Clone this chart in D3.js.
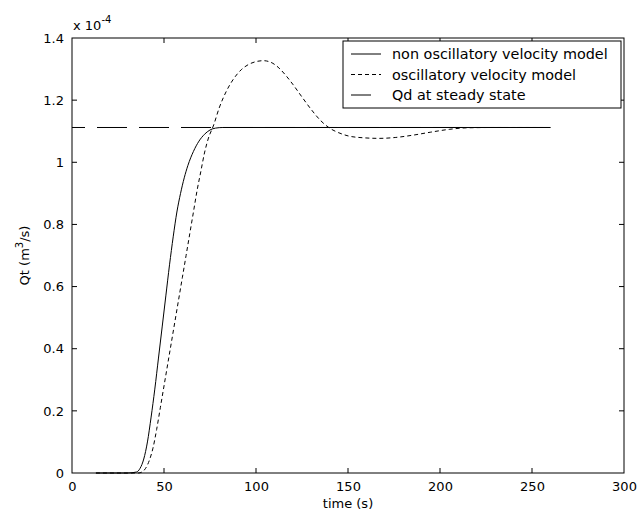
<!DOCTYPE html>
<html>
<head>
<meta charset="utf-8">
<script src="https://cdn.jsdelivr.net/npm/d3@7"></script>
<style>
  body { margin: 0; background: #fff; }
  svg text { font-family: "DejaVu Sans", sans-serif; fill: #000; }
</style>
</head>
<body>
<svg id="chart"></svg>
<script>
// values in units of 1e-4 m^3/s
const QD = 1.112;

const nonOscTime = [13, 30, 35, 37, 39, 41, 43, 45, 47, 49, 51, 53, 55, 57, 59, 61, 63, 66, 69, 72, 75, 78, 82, 100, 150, 200, 260];
const nonOscValue = [0, 0, 0.003, 0.015, 0.045, 0.1, 0.18, 0.27, 0.37, 0.47, 0.57, 0.67, 0.76, 0.84, 0.9, 0.95, 0.99, 1.035, 1.068, 1.09, 1.104, 1.11, 1.112, 1.112, 1.112, 1.112, 1.112];

const oscTime = [13, 36, 38, 40, 42, 44, 46, 48, 50, 52, 54, 56, 58, 60, 62, 64, 66, 68, 70, 72, 74, 77, 80, 84, 88, 92, 96, 100, 104, 108, 112, 116, 120, 125, 130, 135, 140, 145, 150, 158, 167, 176, 185, 195, 205, 215, 230, 260];
const oscValue = [0, 0, 0.003, 0.015, 0.04, 0.08, 0.14, 0.21, 0.28, 0.35, 0.42, 0.49, 0.56, 0.63, 0.7, 0.77, 0.84, 0.91, 0.97, 1.03, 1.075, 1.12, 1.175, 1.23, 1.27, 1.298, 1.315, 1.324, 1.327, 1.322, 1.306, 1.281, 1.251, 1.21, 1.17, 1.135, 1.11, 1.095, 1.085, 1.079, 1.077, 1.08, 1.087, 1.097, 1.106, 1.111, 1.112, 1.112];

const qdTime = [0, 260];

const xTicks = [0, 50, 100, 150, 200, 250, 300];
const yTicks = [0, 0.2, 0.4, 0.6, 0.8, 1, 1.2, 1.4];

const legendLabels = ['non oscillatory velocity model', 'oscillatory velocity model', 'Qd at steady state'];

const W = 637, H = 521;
const M = {left: 72, right: 13, top: 38, bottom: 48};

const svg = d3.select('#chart').attr('width', W).attr('height', H);

const x = d3.scaleLinear().domain([0, 300]).range([M.left, W - M.right]);
const y = d3.scaleLinear().domain([0, 1.4]).range([H - M.bottom, M.top]);

// axes box
svg.append('rect')
  .attr('x', M.left).attr('y', M.top)
  .attr('width', W - M.right - M.left).attr('height', H - M.bottom - M.top)
  .attr('fill', 'none').attr('stroke', '#000');

const xAxis = svg.append('g')
  .attr('transform', `translate(0,${H - M.bottom})`)
  .call(d3.axisBottom(x).tickValues(xTicks).tickSize(0).tickPadding(9).tickFormat(d3.format('d')));
const yAxis = svg.append('g')
  .attr('transform', `translate(${M.left},0)`)
  .call(d3.axisLeft(y).tickValues(yTicks).tickSize(0).tickPadding(8).tickFormat(d => d3.format('')(+d.toFixed(1))));
[xAxis, yAxis].forEach(g => {
  g.select('.domain').remove();
  g.selectAll('text').style('font-size', '13px');
});

// inward ticks, on both sides
const tl = 5;
svg.append('g').selectAll('line').data(xTicks.slice(1, -1)).enter().append('line')
  .attr('x1', d => x(d)).attr('x2', d => x(d))
  .attr('y1', y(0)).attr('y2', y(0) - tl).attr('stroke', '#000');
svg.append('g').selectAll('line').data(xTicks.slice(1, -1)).enter().append('line')
  .attr('x1', d => x(d)).attr('x2', d => x(d))
  .attr('y1', y(1.4)).attr('y2', y(1.4) + tl).attr('stroke', '#000');
svg.append('g').selectAll('line').data(yTicks.slice(1, -1)).enter().append('line')
  .attr('x1', x(0)).attr('x2', x(0) + tl)
  .attr('y1', d => y(d)).attr('y2', d => y(d)).attr('stroke', '#000');
svg.append('g').selectAll('line').data(yTicks.slice(1, -1)).enter().append('line')
  .attr('x1', x(300)).attr('x2', x(300) - tl)
  .attr('y1', d => y(d)).attr('y2', d => y(d)).attr('stroke', '#000');

// exponent label
const ex = svg.append('text').attr('x', M.left + 1).attr('y', M.top - 8).style('font-size', '13px');
ex.append('tspan').text('x 10');
ex.append('tspan').attr('dy', -7).style('font-size', '10px').text('-4');

// axis labels
svg.append('text')
  .attr('x', (M.left + W - M.right) / 2).attr('y', H - 13)
  .attr('text-anchor', 'middle').style('font-size', '13px').text('time (s)');
const yl = svg.append('text')
  .attr('transform', `translate(29,${(M.top + H - M.bottom) / 2}) rotate(-90)`)
  .attr('text-anchor', 'middle').style('font-size', '13px');
yl.append('tspan').text('Qt (m');
yl.append('tspan').attr('dy', -6).style('font-size', '10px').text('3');
yl.append('tspan').attr('dy', 6).text('/s)');

const line = d3.line().x(d => x(d[0])).y(d => y(d[1])).curve(d3.curveMonotoneX);

// Qd
svg.append('path')
  .datum(qdTime.map(t => [t, QD]))
  .attr('d', line).attr('fill', 'none').attr('stroke', '#000')
  .attr('stroke-dasharray', '30,12').attr('stroke-dashoffset', 17);

svg.append('path')
  .datum(nonOscTime.map((t, i) => [t, nonOscValue[i]]))
  .attr('d', line).attr('fill', 'none').attr('stroke', '#000');

svg.append('path')
  .datum(oscTime.map((t, i) => [t, oscValue[i]]))
  .attr('d', line).attr('fill', 'none').attr('stroke', '#000')
  .attr('stroke-dasharray', '4,3');

// legend
const lg = svg.append('g').attr('transform', 'translate(343,41)');
lg.append('rect').attr('width', 278).attr('height', 67)
  .attr('fill', '#fff').attr('stroke', '#000');
const dashes = [null, '4,3', null];
const sampleLen = [30, 30, 20];
legendLabels.forEach((lab, i) => {
  const yy = 13 + i * 20.5;
  lg.append('line').attr('x1', 8).attr('x2', 8 + sampleLen[i])
    .attr('y1', yy).attr('y2', yy).attr('stroke', '#000')
    .attr('stroke-dasharray', dashes[i]);
  lg.append('text').attr('x', 49).attr('y', yy + 5).style('font-size', '14.4px').text(lab);
});
</script>
</body>
</html>
